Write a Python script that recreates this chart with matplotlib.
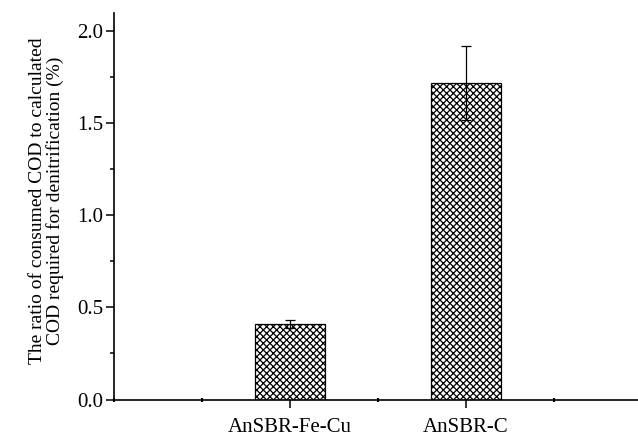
import matplotlib
matplotlib.use("Agg")
import matplotlib.pyplot as plt
from matplotlib.ticker import MultipleLocator, FormatStrFormatter

plt.rcParams['font.family'] = ['Liberation Serif', 'Tinos', 'DejaVu Serif']
plt.rcParams['hatch.linewidth'] = 0.9

# data
groups = ['AnSBR-Fe-Cu', 'AnSBR-C']
ratio = [0.41, 1.72]
err = [0.02, 0.20]
xpos = [1, 2]

fig = plt.figure(figsize=(6.38, 4.37), dpi=100)
ax = fig.add_axes([0.1787, 0.0858, 0.8276, 0.885])

ax.bar(xpos, ratio, width=0.4, color='white', edgecolor='black', linewidth=0.9,
       hatch='xxxxx', yerr=err, capsize=3.5,
       error_kw=dict(ecolor='black', elinewidth=0.9, capthick=0.9))

ax.set_xlim(0, 3)
ax.set_ylim(0, 2.10)
ax.set_xticks(xpos)
ax.set_xticklabels(groups)
ax.xaxis.set_minor_locator(MultipleLocator(0.5))
ax.yaxis.set_major_locator(MultipleLocator(0.5))
ax.yaxis.set_minor_locator(MultipleLocator(0.25))
ax.yaxis.set_major_formatter(FormatStrFormatter('%.1f'))

for s in ['top', 'right']:
    ax.spines[s].set_visible(False)
for s in ['left', 'bottom']:
    ax.spines[s].set_linewidth(1.2)

ax.tick_params(which='major', direction='out', length=5.5, width=1.1, labelsize=15)
ax.tick_params(axis='y', which='major', pad=2)
ax.tick_params(axis='x', which='major', pad=8)
ax.tick_params(axis='y', which='minor', direction='out', length=3, width=1.1)
ax.tick_params(axis='x', which='minor', direction='inout', length=2.5, width=1.5)

ax.set_ylabel('The ratio of consumed COD to calculated\nCOD required for denitrification (%)',
              fontsize=14, linespacing=1.0)
ax.yaxis.set_label_coords(-0.094, 0.515)

fig.savefig('out.png', dpi=100)
